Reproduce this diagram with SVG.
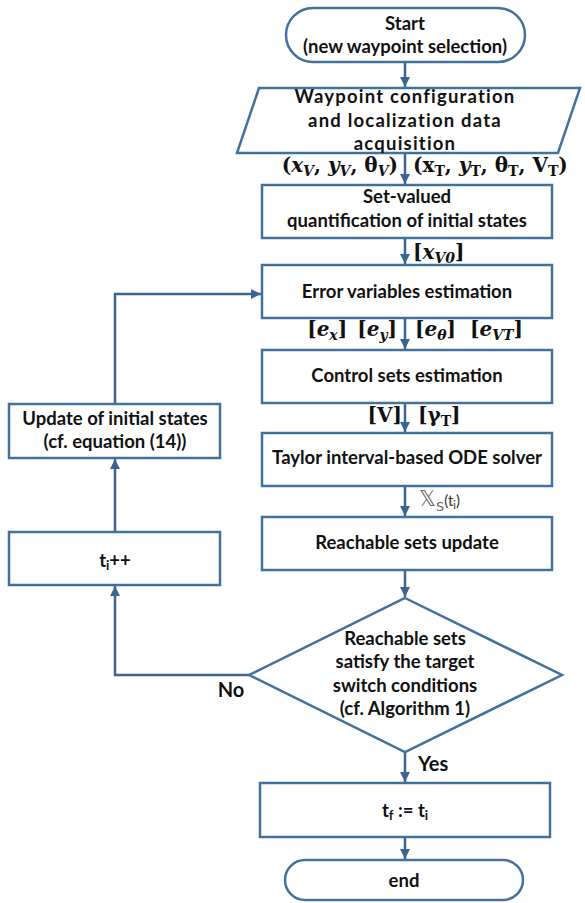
<svg xmlns="http://www.w3.org/2000/svg" width="585" height="903" viewBox="0 0 585 903">
<defs>
<style>
.box{fill:#fff;stroke:#41719C;stroke-width:2.5}
.t{font-family:Lato,"Liberation Sans",sans-serif;font-weight:bold;font-size:18.5px;fill:#111;text-anchor:middle}
.m{font-family:"DejaVu Serif","Liberation Serif",serif;font-weight:bold;font-size:20px;fill:#111}
.mi{font-style:italic}
.s{font-size:14px}
.c{fill:none;stroke:#3A6592;stroke-width:2.5}
</style>
<marker id="ah" viewBox="0 0 10 10" refX="10" refY="5" markerWidth="4" markerHeight="4" orient="auto" markerUnits="strokeWidth">
<path d="M0,0 L10,5 L0,10 z" fill="#3A6592"/>
</marker>
</defs>
<g id="connectors">
<path class="c" d="M405,62 V87" marker-end="url(#ah)"/>
<path class="c" d="M405,153 V184" marker-end="url(#ah)"/>
<path class="c" d="M405,238 V264" marker-end="url(#ah)"/>
<path class="c" d="M405,318 V349" marker-end="url(#ah)"/>
<path class="c" d="M405,403 V432" marker-end="url(#ah)"/>
<path class="c" d="M405,486 V516" marker-end="url(#ah)"/>
<path class="c" d="M405,570 V597" marker-end="url(#ah)"/>
<path class="c" d="M405,752 V782" marker-end="url(#ah)"/>
<path class="c" d="M405,837 V859" marker-end="url(#ah)"/>
<path class="c" d="M249,675 H115 V586" marker-end="url(#ah)"/>
<path class="c" d="M115,532 V459" marker-end="url(#ah)"/>
<path class="c" d="M115,404 V294 H261" marker-end="url(#ah)"/>
</g>
<g id="start">
<rect class="box" x="286" y="8" width="239" height="54" rx="27"/>
<text class="t" x="405" y="30">Start</text>
<text class="t" x="405" y="53">(new waypoint selection)</text>
</g>
<g id="acquisition">
<polygon class="box" points="259,88 580,88 558,153 237,153"/>
<text class="t" x="405" y="103" style="letter-spacing:1.2px">Waypoint configuration</text>
<text class="t" x="405" y="127" style="letter-spacing:1.2px">and localization data</text>
<text class="t" x="405" y="150" style="letter-spacing:1.2px">acquisition</text>
</g>
<g id="labels1">
<text class="m" x="398" y="172" text-anchor="end">(<tspan class="mi">x</tspan><tspan class="mi s" dy="4">V</tspan><tspan dy="-4">, </tspan><tspan class="mi">y</tspan><tspan class="mi s" dy="4">V</tspan><tspan dy="-4">, θ</tspan><tspan class="mi s" dy="4">V</tspan><tspan dy="-4">)</tspan></text>
<text class="m" x="413" y="172">(x<tspan class="s" dy="4">T</tspan><tspan dy="-4">, </tspan><tspan class="mi">y</tspan><tspan class="s" dy="4">T</tspan><tspan dy="-4">, θ</tspan><tspan class="s" dy="4">T</tspan><tspan dy="-4">, V</tspan><tspan class="s" dy="4">T</tspan><tspan dy="-4">)</tspan></text>
</g>
<g id="setvalued">
<rect class="box" x="262" y="185" width="290" height="53"/>
<text class="t" x="407" y="203">Set-valued</text>
<text class="t" x="407" y="227">quantification of initial states</text>
</g>
<text class="m" x="413" y="259">[<tspan class="mi">x</tspan><tspan class="mi s" dy="4">V0</tspan><tspan dy="-4">]</tspan></text>
<g id="error">
<rect class="box" x="262" y="265" width="290" height="53"/>
<text class="t" x="407" y="298">Error variables estimation</text>
</g>
<g id="labels2">
<text class="m" x="397" y="336" text-anchor="end">[<tspan class="mi">e</tspan><tspan class="mi s" dy="4">x</tspan><tspan dy="-4">]</tspan><tspan dx="10">[</tspan><tspan class="mi">e</tspan><tspan class="mi s" dy="4">y</tspan><tspan dy="-4">]</tspan></text>
<text class="m" x="415" y="336">[<tspan class="mi">e</tspan><tspan class="mi s" dy="4">θ</tspan><tspan dy="-4">]</tspan><tspan dx="14">[</tspan><tspan class="mi">e</tspan><tspan class="mi s" dy="4">VT</tspan><tspan dy="-4">]</tspan></text>
</g>
<g id="control">
<rect class="box" x="262" y="350" width="290" height="53"/>
<text class="t" x="407" y="382">Control sets estimation</text>
</g>
<g id="labels3">
<text class="m" x="402" y="422" text-anchor="end">[V]</text>
<text class="m" x="418" y="422">[γ<tspan class="s" dy="4">T</tspan><tspan dy="-4">]</tspan></text>
</g>
<g id="taylor">
<rect class="box" x="262" y="433" width="290" height="53"/>
<text class="t" x="407" y="464">Taylor interval-based ODE solver</text>
</g>
<text x="419" y="506" style="font-family:'DejaVu Sans',sans-serif;font-size:21px;fill:#666">𝕏<tspan dy="5" style="font-size:13px">S</tspan><tspan dy="-5" style="font-family:Lato,sans-serif;font-size:15px;fill:#333">(t</tspan><tspan dy="3" style="font-family:Lato,sans-serif;font-size:11px;fill:#333">i</tspan><tspan dy="-3" style="font-family:Lato,sans-serif;font-size:15px;fill:#333">)</tspan></text>
<g id="reachable">
<rect class="box" x="262" y="517" width="290" height="53"/>
<text class="t" x="407" y="549">Reachable sets update</text>
</g>
<g id="decision">
<polygon class="box" points="405,598 562,675 405,752 249,675"/>
<text class="t" x="405" y="645">Reachable sets</text>
<text class="t" x="405" y="668">satisfy the target</text>
<text class="t" x="405" y="692">switch conditions</text>
<text class="t" x="405" y="715">(cf. Algorithm 1)</text>
</g>
<text class="t" x="231" y="697" style="font-size:20px">No</text>
<text class="t" x="418" y="771" style="font-size:20px;text-anchor:start">Yes</text>
<g id="final">
<rect class="box" x="260" y="783" width="290" height="54"/>
<text class="t" x="405" y="817">t<tspan dy="3" style="font-size:13px">f</tspan><tspan dy="-3"> := t</tspan><tspan dy="3" style="font-size:13px">i</tspan></text>
</g>
<g id="end">
<rect class="box" x="285" y="860" width="238" height="40" rx="20"/>
<text class="t" x="404" y="887">end</text>
</g>
<g id="update">
<rect class="box" x="9" y="404" width="211" height="54"/>
<text class="t" x="115" y="425">Update of initial states</text>
<text class="t" x="115" y="448">(cf. equation (14))</text>
</g>
<g id="increment">
<rect class="box" x="9" y="532" width="211" height="53"/>
<text class="t" x="115" y="567">t<tspan dy="3" style="font-size:13px">i</tspan><tspan dy="-3">++</tspan></text>
</g>
</svg>
